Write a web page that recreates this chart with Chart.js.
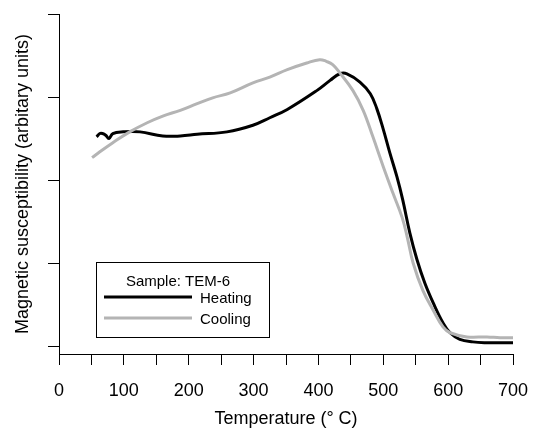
<!DOCTYPE html>
<html><head><meta charset="utf-8">
<script src="https://cdn.jsdelivr.net/npm/chart.js@4/dist/chart.umd.min.js"></script>
<style>html,body{margin:0;padding:0;background:#fff}canvas{display:block}</style>
</head><body>
<canvas id="c" width="533" height="433"></canvas>
<script>
// Heating curve: temperature (°C) and susceptibility (arbitrary units)
const heatingT   = [58, 63, 67, 72, 77, 83, 99, 125, 160, 187, 213, 259, 299, 325, 352, 398, 418, 433, 444, 464, 480, 490, 500, 510, 521, 530, 541, 552, 564, 577, 592, 603, 618, 638, 660, 680, 700];
const heatingChi = [2.52, 2.56, 2.56, 2.54, 2.50, 2.56, 2.58, 2.58, 2.53, 2.53, 2.55, 2.58, 2.66, 2.75, 2.85, 3.08, 3.20, 3.28, 3.28, 3.18, 3.04, 2.86, 2.61, 2.33, 2.04, 1.76, 1.36, 1.04, 0.76, 0.52, 0.28, 0.16, 0.08, 0.05, 0.04, 0.04, 0.04];
// Cooling curve
const coolingT   = [51, 63, 83, 109, 136, 160, 187, 213, 237, 264, 299, 325, 352, 382, 402, 412, 422, 433, 453, 469, 484, 500, 515, 529, 537, 546, 561, 577, 592, 603, 629, 660, 680, 700];
const coolingChi = [2.27, 2.34, 2.45, 2.58, 2.69, 2.77, 2.84, 2.92, 2.99, 3.05, 3.17, 3.24, 3.33, 3.41, 3.45, 3.43, 3.39, 3.29, 3.08, 2.84, 2.52, 2.16, 1.84, 1.55, 1.31, 1.00, 0.67, 0.43, 0.23, 0.16, 0.11, 0.11, 0.10, 0.10];
const xTickLabels = [0, 100, 200, 300, 400, 500, 600, 700];
const seriesNames = ['Heating', 'Cooling'];
const legendTitle = 'Sample: TEM-6';
const xTitle = 'Temperature (\u00B0 C)';
const yTitle = 'Magnetic susceptibility (arbitary units)';

const FONT = '"Liberation Sans", Arial, sans-serif';
const toXY = (xs, ys) => xs.map((x, i) => ({x: x, y: ys[i]}));

const legendPlugin = {
  id: 'boxLegend',
  afterDraw(chart) {
    const {ctx, chartArea: a} = chart;
    const x = Math.round(a.left + 37), y = Math.round(a.bottom - 92), w = 173, h = 75;
    ctx.save();
    ctx.fillStyle = '#fff';
    ctx.fillRect(x, y, w, h);
    ctx.strokeStyle = '#000';
    ctx.lineWidth = 1;
    ctx.strokeRect(x + 0.5, y + 0.5, w, h);
    ctx.font = '15px ' + FONT;
    ctx.fillStyle = '#000';
    ctx.textBaseline = 'alphabetic';
    ctx.textAlign = 'center';
    ctx.fillText(legendTitle, x + 82, y + 24);
    ctx.textAlign = 'left';
    chart.data.datasets.forEach((ds, i) => {
      const ly = y + 35 + i * 21;
      ctx.strokeStyle = ds.borderColor;
      ctx.lineWidth = 3;
      ctx.beginPath();
      ctx.moveTo(x + 8, ly);
      ctx.lineTo(x + 96, ly);
      ctx.stroke();
      ctx.fillStyle = '#000';
      ctx.fillText(ds.label, x + 104, ly + 6);
    });
    ctx.restore();
  }
};

new Chart(document.getElementById('c'), {
  type: 'line',
  data: {
    datasets: [
      {label: seriesNames[0], data: toXY(heatingT, heatingChi), borderColor: '#000000', borderWidth: 3, pointRadius: 0, tension: 0.4, fill: false, order: 1},
      {label: seriesNames[1], data: toXY(coolingT, coolingChi), borderColor: '#b4b4b4', borderWidth: 3, pointRadius: 0, tension: 0.4, fill: false, order: 0}
    ]
  },
  options: {
    responsive: false,
    animation: false,
    devicePixelRatio: 1,
    layout: {padding: {top: 14, right: 20, left: 0, bottom: 0}},
    plugins: {legend: {display: false}, tooltip: {enabled: false}},
    scales: {
      x: {
        type: 'linear', min: 0, max: 700,
        grid: {drawOnChartArea: false, drawTicks: true, tickLength: 11, color: '#000'},
        border: {display: true, color: '#000', width: 1},
        ticks: {
          stepSize: 50, autoSkip: false, maxRotation: 0, padding: 15, color: '#000',
          font: {family: FONT, size: 18},
          callback: (v) => xTickLabels.includes(v) ? String(v) : ''
        },
        title: {display: true, text: xTitle, color: '#000', font: {family: FONT, size: 18}, padding: {top: 0, bottom: 3}},
        afterFit: (s) => { s.height = 79; s.paddingLeft = 0; s.paddingRight = 0; }
      },
      y: {
        type: 'linear', min: -0.096, max: 4,
        grid: {drawOnChartArea: false, drawTicks: true, tickLength: 11, color: '#000'},
        border: {display: true, color: '#000', width: 1},
        ticks: {stepSize: 1, includeBounds: false, display: false},
        title: {display: true, text: yTitle, color: '#000', font: {family: FONT, size: 18}, padding: {top: 12, bottom: 0}},
        afterFit: (s) => { s.width = 59; s.paddingTop = 0; s.paddingBottom = 0; }
      }
    }
  },
  plugins: [legendPlugin]
});
</script>
</body></html>
